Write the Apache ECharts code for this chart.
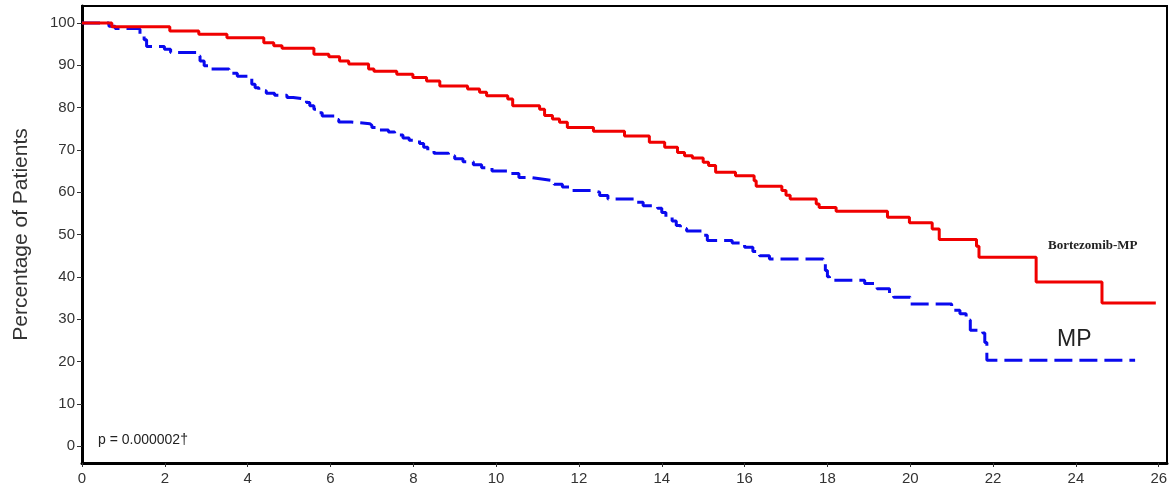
<!DOCTYPE html>
<html>
<head>
<meta charset="utf-8">
<script src="https://cdn.jsdelivr.net/npm/echarts@6/dist/echarts.min.js"></script>
<style>html,body{margin:0;padding:0;background:#fff}#c{width:1175px;height:500px}</style>
</head>
<body>
<div id="c"></div>
<script>
const xTicks = [0,2,4,6,8,10,12,14,16,18,20,22,24,26];
const yTicks = [0,10,20,30,40,50,60,70,80,90,100];

const vmpTimes = [0,0.72,2.12,2.82,3.5,4.39,4.63,4.83,5.6,5.96,6.22,6.44,6.92,7.05,7.6,7.99,8.32,8.64,9.31,9.6,9.77,10.28,10.4,11.05,11.17,11.36,11.53,11.72,12.35,13.1,13.7,14.07,14.38,14.55,14.74,15.0,15.13,15.3,15.78,16.23,16.28,16.9,17.0,17.1,17.73,17.8,18.21,19.45,19.98,20.53,20.7,21.6,21.66,23.04,24.63,25.93];
const vmpSurv  = [100,99.1,98.1,97.3,96.5,95.3,94.6,94.0,92.6,92.0,91.0,90.3,89.1,88.6,87.9,87.1,86.3,85.1,84.4,83.6,82.8,82.0,80.4,79.6,78.1,77.3,76.5,75.3,74.4,73.3,71.8,70.6,69.4,68.6,68.1,67.1,66.3,64.7,63.9,62.7,61.4,60.4,59.3,58.4,57.2,56.4,55.5,54.1,52.8,51.3,48.8,47.2,44.6,38.8,33.8,33.8];

const mpTimes = [0,0.65,0.8,1.33,1.4,1.5,1.56,1.99,2.14,2.77,2.85,2.95,3.06,3.55,3.75,4.03,4.1,4.18,4.27,4.45,4.65,4.95,5.1,5.42,5.5,5.6,5.7,5.8,6.1,6.2,6.5,6.95,7.0,7.1,7.4,7.55,7.75,7.9,8.15,8.25,8.35,8.5,8.85,9.0,9.2,9.45,9.65,9.9,10.3,10.55,10.8,11.1,11.4,11.6,11.8,12.35,12.5,12.7,13.4,13.55,13.9,14.0,14.1,14.25,14.35,14.45,14.6,14.98,15.1,15.7,16.0,16.2,16.36,16.6,17.9,17.95,18.0,18.05,18.9,19.2,19.5,19.6,20.0,21.0,21.2,21.35,21.45,21.75,21.8,21.85,25.43];
const mpSurv  = [100,99.2,98.7,98.5,97.0,96.0,94.4,93.8,93.0,92.2,91.0,89.9,89.1,88.1,87.4,86.8,85.5,84.7,84.0,83.4,82.9,82.4,82.0,81.2,80.4,79.6,78.8,78.0,77.2,76.6,76.2,75.8,75.3,74.7,74.2,73.5,72.8,72.3,71.5,70.6,69.8,69.2,68.6,67.9,67.2,66.5,65.8,65.0,64.4,63.5,63.1,62.7,61.9,61.2,60.4,60.0,59.2,58.4,57.6,56.8,56.2,55.2,54.1,53.2,52.1,51.4,50.8,49.8,48.6,48.0,47.0,46.0,45.0,44.2,43.2,41.5,40.0,39.2,38.4,37.2,35.9,35.2,33.6,32.1,31.3,29.8,27.4,26.7,24.5,20.3,20.3];

const seriesNames = ['Bortezomib-MP','MP'];
const pText = 'p = 0.000002\u2020';
const yTitle = 'Percentage of Patients';

const zip = (a,b) => a.map((t,i)=>[t,b[i]]);
const chart = echarts.init(document.getElementById('c'));
chart.setOption({
  animation:false,
  backgroundColor:'#fff',
  grid:{left:82,right:8,top:6,bottom:37,show:true,borderColor:'#000',borderWidth:2,backgroundColor:'transparent'},
  xAxis:{type:'value',min:0,max:26.2,
    axisLine:{onZero:false,lineStyle:{color:'#000',width:3}},
    axisTick:{customValues:xTicks,length:4,lineStyle:{color:'#333',width:1}},
    axisLabel:{customValues:xTicks,color:'#333',fontSize:15,fontFamily:'Liberation Sans, Arial, sans-serif',margin:8},
    splitLine:{show:false}},
  yAxis:{type:'value',min:-4,max:104,
    name:yTitle,nameLocation:'middle',nameGap:50,
    nameTextStyle:{fontSize:21,color:'#333',fontFamily:'Liberation Sans, Arial, sans-serif'},
    axisLine:{show:true,onZero:false,lineStyle:{color:'#000',width:3}},
    axisTick:{show:true,customValues:yTicks,length:5,lineStyle:{color:'#333',width:1}},
    axisLabel:{customValues:yTicks,color:'#333',fontSize:15,fontFamily:'Liberation Sans, Arial, sans-serif',margin:7},
    splitLine:{show:false}},
  series:[
    {name:seriesNames[0],type:'line',step:'end',data:zip(vmpTimes,vmpSurv),showSymbol:false,
     lineStyle:{color:'#f00000',width:3},z:3},
    {name:seriesNames[1],type:'line',step:'end',data:zip(mpTimes,mpSurv),showSymbol:false,
     lineStyle:{color:'#0a0aee',width:3,type:[18,7]},z:2}
  ],
  graphic:[
    {type:'text',left:1048,top:239,style:{text:seriesNames[0],font:'bold 13px "Liberation Serif", "Times New Roman", serif',fill:'#222'}},
    {type:'text',left:1057,top:328,style:{text:seriesNames[1],font:'23px "Liberation Sans", Arial, sans-serif',fill:'#222'}},
    {type:'text',left:98,top:433,style:{text:pText,font:'14px "Liberation Sans", Arial, sans-serif',fill:'#222'}}
  ]
});
</script>
</body>
</html>
